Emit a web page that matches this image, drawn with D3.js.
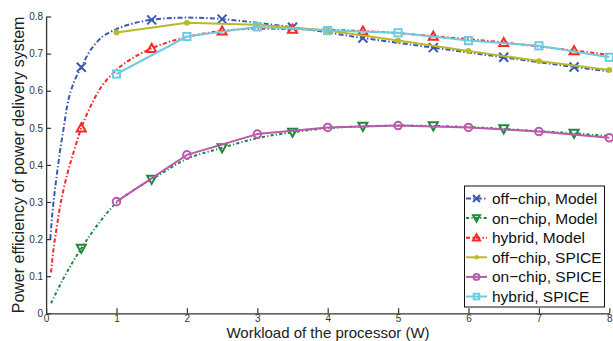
<!DOCTYPE html>
<html>
<head>
<meta charset="utf-8">
<script src="https://cdn.jsdelivr.net/npm/d3@7"></script>
<style>
  html, body { margin: 0; padding: 0; background: #fff; }
  svg { display: block; font-family: "Liberation Sans", Arial, sans-serif; }
</style>
</head>
<body>
<svg id="chart" width="613" height="341"></svg>
<script>
// Workload values (W) where the analytical model is sampled with markers
const modelX = [0.5, 1.5, 2.5, 3.5, 4.5, 5.5, 6.5, 7.5];
const offChipModel = [0.663, 0.791, 0.793, 0.771, 0.742, 0.716, 0.690, 0.664];
const onChipModel  = [0.175, 0.361, 0.446, 0.488, 0.504, 0.505, 0.497, 0.485];
const hybridModel  = [0.500, 0.714, 0.761, 0.766, 0.761, 0.747, 0.730, 0.708];

// Continuous model curves [workload, efficiency]
const offChipModelCurve = [[0.06,0.20],[0.08,0.25],[0.1,0.29],[0.15,0.37],[0.2,0.44],[0.25,0.50],[0.3,0.56],[0.4,0.625],[0.5,0.663],[0.6,0.70],[0.75,0.737],[1,0.766],[1.25,0.782],[1.5,0.791],[2,0.797],[2.5,0.793],[3,0.783],[3.5,0.771],[4,0.757],[4.5,0.742],[5,0.729],[5.5,0.716],[6,0.703],[6.5,0.690],[7,0.677],[7.5,0.664],[8,0.652]];
const onChipModelCurve = [[0.07,0.027],[0.25,0.095],[0.5,0.175],[0.75,0.243],[1,0.298],[1.25,0.333],[1.5,0.361],[2,0.416],[2.5,0.446],[3,0.472],[3.5,0.488],[4,0.499],[4.5,0.504],[5,0.506],[5.5,0.505],[6,0.502],[6.5,0.497],[7,0.491],[7.5,0.485],[8,0.478]];
const hybridModelCurve = [[0.07,0.11],[0.1,0.165],[0.15,0.23],[0.2,0.29],[0.25,0.335],[0.3,0.375],[0.4,0.44],[0.5,0.50],[0.6,0.545],[0.75,0.60],[1,0.656],[1.25,0.690],[1.5,0.714],[2,0.745],[2.5,0.761],[3,0.767],[3.5,0.766],[4,0.764],[4.5,0.761],[5,0.755],[5.5,0.747],[6,0.739],[6.5,0.730],[7,0.719],[7.5,0.708],[8,0.697]];

// Circuit simulation results
const spiceX = [1, 2, 3, 4, 5, 6, 7, 8];
const offChipSpice = [0.757, 0.783, 0.778, 0.762, 0.735, 0.707, 0.680, 0.656];
const onChipSpice  = [0.301, 0.427, 0.483, 0.501, 0.506, 0.501, 0.490, 0.473];
const hybridSpice  = [0.645, 0.746, 0.772, 0.762, 0.756, 0.735, 0.721, 0.690];

// Axis ticks
const xTicks = [0, 1, 2, 3, 4, 5, 6, 7, 8];
const xTickLabels = ["0", "1", "2", "3", "4", "5", "6", "7", "8"];
const yTicks = [0, 0.1, 0.2, 0.3, 0.4, 0.5, 0.6, 0.7, 0.8];
const yTickLabels = ["0", "0.1", "0.2", "0.3", "0.4", "0.5", "0.6", "0.7", "0.8"];

const legendLabels = ["off\u2212chip, Model", "on\u2212chip, Model", "hybrid, Model",
                      "off\u2212chip, SPICE", "on\u2212chip, SPICE", "hybrid, SPICE"];

const svg = d3.select("#chart");
const x = d3.scaleLinear().domain([0, 8]).range([46.1, 609.3]);
const y = d3.scaleLinear().domain([0, 0.8]).range([313.3, 16.5]);

const C = {
  blue: "#3a58b4", green: "#1d8a3e", red: "#ff2626",
  olive: "#b9b92c", magenta: "#b95aac", cyan: "#6ccde0"
};

// Series styles
const modelSeries = [
  { curve: offChipModelCurve, vals: offChipModel, color: C.blue, dash: "5,2.2,1.4,2.2", marker: "x" },
  { curve: onChipModelCurve,  vals: onChipModel,  color: C.green, dash: "3.2,2.2,1.2,2.2", marker: "tdown" },
  { curve: hybridModelCurve,  vals: hybridModel,  color: C.red,  dash: "4.2,2.2,1.4,2.2", marker: "tup" }
];
const spiceSeries = [
  { vals: offChipSpice, color: C.olive, marker: "dot" },
  { vals: onChipSpice,  color: C.magenta, marker: "circle" },
  { vals: hybridSpice,  color: C.cyan, marker: "square" }
];

function drawMarker(g, type, cx, cy, color, s) {
  if (type === "x") {
    const h = s * 0.5;
    g.append("path").attr("d", `M${cx-h},${cy-h}L${cx+h},${cy+h}M${cx-h},${cy+h}L${cx+h},${cy-h}`)
      .attr("stroke", color).attr("stroke-width", 2).attr("fill", "none");
  } else if (type === "tup") {
    const h = s * 0.5;
    g.append("path").attr("d", `M${cx},${cy-h}L${cx+h},${cy+h*0.8}L${cx-h},${cy+h*0.8}Z`)
      .attr("stroke", color).attr("stroke-width", 2).attr("fill", "none");
  } else if (type === "tdown") {
    const h = s * 0.5;
    g.append("path").attr("d", `M${cx},${cy+h}L${cx+h},${cy-h*0.8}L${cx-h},${cy-h*0.8}Z`)
      .attr("stroke", color).attr("stroke-width", 2).attr("fill", "none");
  } else if (type === "dot") {
    g.append("circle").attr("cx", cx).attr("cy", cy).attr("r", s * 0.32).attr("fill", color);
  } else if (type === "circle") {
    g.append("circle").attr("cx", cx).attr("cy", cy).attr("r", s * 0.42)
      .attr("stroke", color).attr("stroke-width", 2).attr("fill", "none");
  } else if (type === "square") {
    const h = s * 0.4;
    g.append("rect").attr("x", cx - h).attr("y", cy - h).attr("width", 2*h).attr("height", 2*h)
      .attr("stroke", color).attr("stroke-width", 2).attr("fill", "none");
  }
}

// Axes: MATLAB-like inward ticks on left and bottom only
const xAxis = d3.axisBottom(x).tickValues(xTicks).tickFormat((d, i) => xTickLabels[i])
  .tickSizeInner(-5).tickSizeOuter(0).tickPadding(1.6);
const yAxis = d3.axisLeft(y).tickValues(yTicks).tickFormat((d, i) => yTickLabels[i])
  .tickSizeInner(-5).tickSizeOuter(0).tickPadding(3);

const gx = svg.append("g").attr("transform", `translate(0,${y(0)})`).call(xAxis);
const gy = svg.append("g").attr("transform", `translate(${x(0)},0)`).call(yAxis);
[gx, gy].forEach(g => {
  g.select(".domain").attr("stroke", "#333").attr("stroke-width", 1.3);
  g.selectAll(".tick line").attr("stroke", "#333").attr("stroke-width", 1.2);
  g.selectAll(".tick text").attr("fill", "#333").style("font-size", "10px")
    .style("font-family", "'Liberation Sans', Arial, sans-serif");
});

// Model curves
const smooth = d3.line().x(d => x(d[0])).y(d => y(d[1])).curve(d3.curveMonotoneX);
const plot = svg.append("g");
modelSeries.forEach(s => {
  plot.append("path").attr("d", smooth(s.curve)).attr("fill", "none")
    .attr("stroke", s.color).attr("stroke-width", 2).attr("stroke-dasharray", s.dash);
  s.vals.forEach((v, i) => drawMarker(plot, s.marker, x(modelX[i]), y(v), s.color, 9));
});

// SPICE polylines
const straight = d3.line().x((d, i) => x(spiceX[i])).y(d => y(d));
spiceSeries.forEach(s => {
  plot.append("path").attr("d", straight(s.vals)).attr("fill", "none")
    .attr("stroke", s.color).attr("stroke-width", 2);
  s.vals.forEach((v, i) => drawMarker(plot, s.marker, x(spiceX[i]), y(v), s.color, 9));
});

// Axis titles
svg.append("text").attr("x", 328).attr("y", 337.8).attr("text-anchor", "middle")
  .style("font-size", "15px").attr("fill", "#222").text("Workload of the processor (W)");
svg.append("text").attr("transform", `translate(23.5,${(y(0) + y(0.8)) / 2}) rotate(-90)`)
  .attr("text-anchor", "middle").style("font-size", "16px").attr("fill", "#222")
  .text("Power efficiency of power delivery system");

// Legend
const lg = svg.append("g");
lg.append("rect").attr("x", 464.5).attr("y", 186).attr("width", 140).attr("height", 121)
  .attr("fill", "#fff").attr("stroke", "#111").attr("stroke-width", 1);
const allSeries = modelSeries.concat(spiceSeries);
allSeries.forEach((s, i) => {
  const cy = 198.5 + i * 19.6;
  const row = lg.append("g");
  const ln = row.append("line").attr("x1", 466).attr("x2", 487).attr("y1", cy).attr("y2", cy)
    .attr("stroke", s.color).attr("stroke-width", 2);
  if (s.dash) ln.attr("stroke-dasharray", s.dash);
  drawMarker(row, s.marker, 476.5, cy, s.color, 7);
  row.append("text").attr("x", 492).attr("y", cy + 5.5).style("font-size", "15.5px")
    .attr("fill", "#111").text(legendLabels[i]);
});
</script>
</body>
</html>
